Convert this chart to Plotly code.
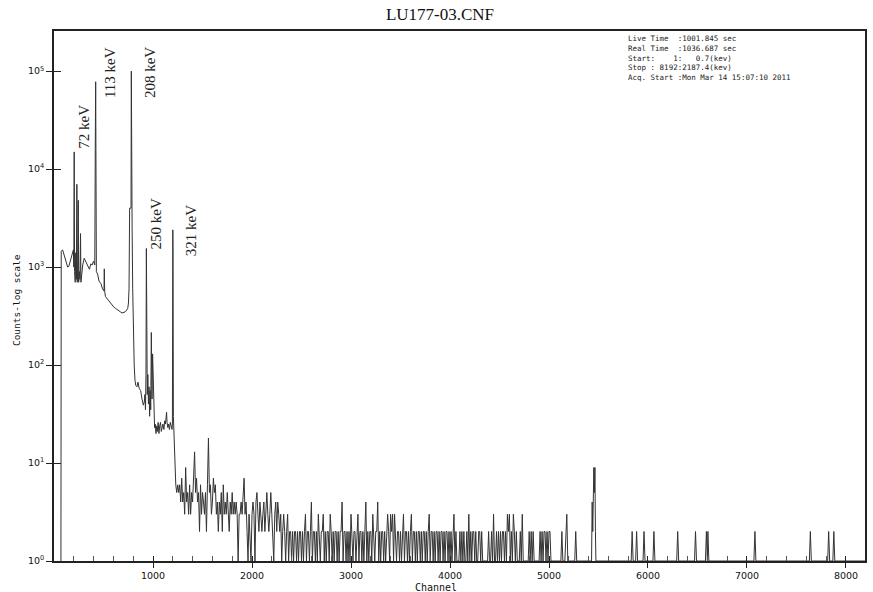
import plotly.graph_objects as go

# ---------------- data ----------------
# Peak region: channel / counts vertices
peak_channels = [70, 73, 87, 100, 117, 138, 150, 165, 180, 196, 200, 204, 208, 214, 220, 226, 231, 235, 241, 245,
                 249, 256, 262, 268, 272, 278, 290, 305, 318, 330, 345, 358, 372, 385, 399, 412, 417, 421, 424, 428,
                 440, 455, 473, 490, 505, 508, 512, 520, 540, 555, 570, 587, 605, 620, 640, 654, 670, 687, 705, 721,
                 735, 745, 752, 758, 764, 778, 781, 784, 789, 795, 802, 810, 818, 826, 838, 848, 860, 875, 889, 902,
                 912, 918, 924, 929, 933, 937, 942, 948, 954, 960, 966, 972, 977, 983, 990, 996, 1002, 1006, 1010, 1016,
                 1022, 1030, 1038, 1045, 1052, 1060, 1068, 1076, 1084, 1092, 1100, 1110, 1118, 1126, 1132, 1137, 1142, 1150, 1158, 1166,
                 1175, 1184, 1192, 1196, 1199, 1200, 1202, 1206, 1213, 1220]
peak_counts = [1, 1450, 1500, 1350, 1200, 1000, 1020, 1150, 1300, 1500, 1000, 15000, 900, 700, 1400, 750, 7000, 700, 1200, 4800,
               700, 900, 750, 2200, 700, 800, 1050, 1230, 1150, 1100, 1000, 950, 1080, 1050, 1150, 1050, 16000, 78000, 11000, 900,
               850, 720, 680, 600, 570, 960, 560, 500, 470, 460, 430, 410, 390, 380, 370, 360, 350, 340, 345, 350,
               365, 380, 430, 600, 4000, 4000, 100000, 4000, 2500, 600, 200, 100, 70, 62, 60, 67, 58, 55, 45, 39,
               42, 50, 35, 80, 1550, 120, 50, 80, 40, 60, 30, 55, 35, 215, 45, 130, 60, 76, 28, 23,
               25, 20, 24, 21, 26, 20, 24, 26, 21, 24, 25, 22, 27, 25, 28, 33, 26, 23, 25, 22,
               26, 23, 22, 25, 1500, 2400, 1500, 30, 18, 9]

# Noisy continuum: counts every 10 channels from channel 1230
noise_start = 1230
noise_step = 10
noise_counts = [
    6, 5, 6, 5, 6, 4, 7, 4, 5, 3, 9, 4, 5, 3, 6, 3, 5, 4, 8, 13,
    5, 7, 4, 5, 2, 6, 3, 5, 4, 3, 5, 2, 6, 18, 5, 6, 3, 4, 7, 5,
    6, 3, 4, 2, 4, 3, 5, 2, 6, 3, 4, 3, 5, 3, 2, 4, 3, 5, 3, 4,
    3, 4, 3, 1, 3, 3, 4, 3, 5, 7, 3, 4, 2, 1, 3, 2, 1, 3, 4, 3,
    1, 4, 5, 3, 2, 4, 3, 2, 3, 4, 2, 3, 5, 3, 2, 3, 5, 3, 2, 1,
    3, 4, 2, 4, 3, 2, 3, 1, 2, 3, 2, 1, 2, 3, 1, 2, 2, 1, 2, 1,
    2, 2, 1, 2, 1, 2, 2, 1, 2, 1, 2, 3, 1, 2, 2, 1, 2, 4, 1, 2,
    2, 1, 2, 1, 3, 2, 1, 2, 2, 3, 1, 2, 1, 2, 2, 1, 3, 2, 1, 2,
    1, 2, 2, 1, 2, 1, 2, 2, 4, 1, 2, 2, 1, 2, 1, 2, 1, 3, 2, 1,
    2, 2, 1, 2, 3, 1, 2, 2, 1, 2, 1, 2, 4, 1, 2, 1, 2, 2, 1, 3,
    2, 1, 2, 2, 4, 1, 2, 1, 2, 2, 1, 2, 1, 2, 3, 2, 1, 3, 2, 3,
    1, 3, 2, 1, 2, 2, 1, 2, 1, 2, 3, 1, 2, 2, 1, 2, 1, 2, 3, 1,
    2, 2, 1, 2, 1, 2, 2, 1, 2, 1, 2, 2, 1, 2, 1, 2, 3, 1, 2, 2,
    1, 2, 1, 2, 2, 1, 2, 1, 2, 2, 1, 2, 1, 2, 2, 1, 2, 1, 2, 1,
    2, 3, 1, 2, 1, 1, 1, 2, 1, 2, 1, 2, 1, 1, 2, 1, 3, 1, 2, 1,
    2, 2, 1, 2, 1, 1, 2, 2, 1, 2, 1, 1, 1, 1, 1, 1, 2, 1, 1, 2,
    1, 3, 1, 1, 2, 1, 2, 1, 2, 1, 2, 2, 1, 2, 1, 3, 2, 3, 1, 2,
    1, 3, 2, 1, 2, 1, 1, 1, 2, 1, 3, 1, 1, 1, 1, 1, 1, 2, 1, 2,
    1, 2, 1, 1, 1, 1, 1, 1, 2, 1, 2, 1, 2, 2, 1, 2, 1, 2, 2, 1,
]

# Sparse high-channel region: channel / counts vertices
sparse_channels = [5030, 5120, 5130, 5140, 5160, 5170, 5180, 5190, 5260, 5270, 5280,
                   5430, 5436, 5442, 5448, 5453, 5459, 5464, 5469, 5474,
                   5830, 5840, 5850, 5875, 5885, 5895, 5950, 5960, 5970, 6050, 6060, 6070, 6290, 6300, 6310,
                   6470, 6480, 6490, 6580, 6590, 6600, 6605, 6615, 7070, 7080, 7090, 7630, 7640, 7650,
                   7815, 7825, 7835, 7867, 7877, 7887, 8192]
sparse_counts = [1, 1, 2, 1, 1, 2, 3, 1, 1, 2, 1,
                 1, 4, 2, 6, 9, 5, 9, 2, 1,
                 1, 2, 1, 1, 2, 1, 1, 2, 1, 1, 2, 1, 1, 2, 1,
                 1, 2, 1, 1, 2, 1, 2, 1, 1, 2, 1, 1, 2, 1,
                 1, 2, 1, 1, 2, 1, 1]

x_tick_vals = [1000, 2000, 3000, 4000, 5000, 6000, 7000, 8000]
x_minor_vals = [c for c in range(200, 8192, 200) if c % 1000 != 0]
y_tick_vals = [1, 10, 100, 1000, 10000, 100000]
y_tick_text = ["10<sup>0</sup>", "10<sup>1</sup>", "10<sup>2</sup>", "10<sup>3</sup>", "10<sup>4</sup>", "10<sup>5</sup>"]

peak_labels = ["72 keV", "113 keV", "208 keV", "250 keV", "321 keV"]
peak_label_channels = [300, 565, 964, 1035, 1387]
peak_label_log_counts = [4.43, 4.99, 4.985, 3.44, 3.37]

info_lines = [
    "Live Time  :1001.845 sec",
    "Real Time  :1036.687 sec",
    "Start:    1:   0.7(kev)",
    "Stop : 8192:2187.4(kev)",
    "Acq. Start :Mon Mar 14 15:07:10 2011",
]

# ---------------- assemble ----------------
noise_channels = [noise_start + i * noise_step for i in range(len(noise_counts))]
channels = peak_channels + noise_channels + sparse_channels
counts = peak_counts + noise_counts + sparse_counts

fig = go.Figure()
fig.add_trace(go.Scatter(
    x=channels, y=counts, mode="lines",
    line=dict(color="#333333", width=1),
    hoverinfo="skip", showlegend=False,
))
# empty trace that carries the overlay axes used for the inner half of the major ticks
fig.add_trace(go.Scatter(x=[None], y=[None], xaxis="x2", yaxis="y2", mode="lines",
                         hoverinfo="skip", showlegend=False))

fig.update_layout(
    width=873, height=592,
    margin=dict(l=54, r=6, t=31, b=31),
    paper_bgcolor="white", plot_bgcolor="white",
    showlegend=False,
    title=dict(text="LU177-03.CNF", x=0.504, xanchor="center", y=1 - 14 / 592, yanchor="middle",
               font=dict(family="Liberation Serif", size=17, color="#111")),
)

fig.update_layout(
    xaxis=dict(
        range=[0, 8192], tickmode="array", tickvals=x_tick_vals,
        ticks="outside", ticklen=5, tickcolor="#222", tickwidth=1,
        showline=True, linecolor="#222", linewidth=1.5, mirror=True,
        showgrid=False, zeroline=False,
        tickfont=dict(family="DejaVu Sans", size=9.5, color="#111"),
        minor=dict(tickmode="array", tickvals=x_minor_vals, ticks="inside", ticklen=5,
                   tickcolor="#555", tickwidth=1, showgrid=False),
    ),
    yaxis=dict(
        type="log", range=[0, 5.41], tickmode="array", tickvals=y_tick_vals, ticktext=y_tick_text,
        ticks="outside", ticklen=6, tickcolor="#222", tickwidth=1,
        showline=True, linecolor="#222", linewidth=1.5, mirror=True,
        showgrid=False, zeroline=False,
        tickfont=dict(family="DejaVu Sans", size=9.5, color="#111"),
    ),
    xaxis2=dict(
        overlaying="x", anchor="y2", side="bottom",
        range=[0, 8192], tickmode="array", tickvals=x_tick_vals,
        ticks="inside", ticklen=5, tickcolor="#222", tickwidth=1,
        showticklabels=False, showline=False, showgrid=False, zeroline=False,
    ),
    yaxis2=dict(
        overlaying="y", anchor="x2", side="left",
        type="log", range=[0, 5.41], tickmode="array", tickvals=y_tick_vals,
        ticks="inside", ticklen=7, tickcolor="#222", tickwidth=1,
        showticklabels=False, showline=False, showgrid=False, zeroline=False,
    ),
)

annotations = []
for txt, ch, lc in zip(peak_labels, peak_label_channels, peak_label_log_counts):
    annotations.append(dict(text=txt, x=ch, y=lc, xref="x", yref="y", showarrow=False,
                            textangle=-90, xanchor="center", yanchor="middle",
                            font=dict(family="Liberation Serif", size=15, color="#222")))

annotations.append(dict(
    text="<br>".join(l.replace(" ", "\u00a0") for l in info_lines),
    xref="paper", yref="paper", x=(627 - 54) / 813, y=(561 - 32) / 530,
    xanchor="left", yanchor="top", align="left", showarrow=False,
    font=dict(family="DejaVu Sans Mono", size=7.5, color="#222"),
))
annotations.append(dict(
    text="Counts-log scale", xref="paper", yref="paper",
    x=(16 - 54) / 813, y=(561 - 300) / 530, textangle=-90,
    xanchor="center", yanchor="middle", showarrow=False,
    font=dict(family="DejaVu Sans Mono", size=9.5, color="#111"),
))
annotations.append(dict(
    text="Channel", xref="paper", yref="paper",
    x=(437 - 54) / 813, y=(561 - 587) / 530,
    xanchor="center", yanchor="middle", showarrow=False,
    font=dict(family="DejaVu Sans Mono", size=10, color="#111"),
))
fig.update_layout(annotations=annotations)

fig.write_html(
    "out.html",
    config={"displayModeBar": False},
    post_script="document.body.style.margin='0px';document.body.style.overflow='hidden';",
)
